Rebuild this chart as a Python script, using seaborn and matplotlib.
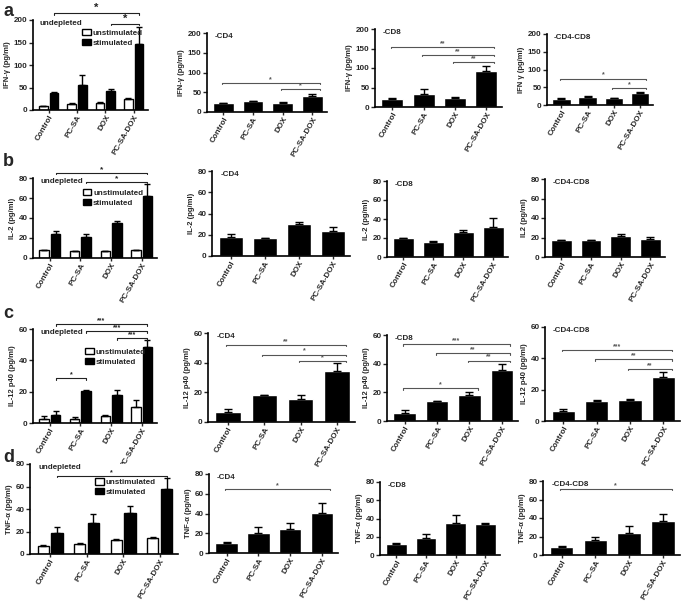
import numpy as np
import pandas as pd
import matplotlib
matplotlib.use("Agg")
import matplotlib.pyplot as plt
import seaborn as sns
from matplotlib.patches import Patch

# Groups on the x axis (same for every panel)
groups = ["Control", "PC-SA", "DOX", "PC-SA-DOX"]

# Row a: IFN-gamma
ifng_unstim = [8, 14, 16, 24]
ifng_unstim_err = [1, 2, 1, 2]
ifng_stim = [37, 56, 43, 147]
ifng_stim_err = [2, 21, 4, 37]
ifng_cd4 = [22, 27, 24, 41]
ifng_cd4_err = [1, 2, 1, 4]
ifng_cd8 = [20, 33, 24, 93]
ifng_cd8_err = [2, 13, 1, 12]
ifng_cd4cd8 = [18, 23, 19, 33]
ifng_cd4cd8_err = [1, 2, 2, 3]

# Row b: IL-2
il2_unstim = [8, 7, 7, 8]
il2_unstim_err = [0.5, 0.3, 0.3, 0.5]
il2_stim = [24.5, 21.5, 35, 62]
il2_stim_err = [3, 3, 2.5, 12]
il2_cd4 = [18, 17, 30.5, 24]
il2_cd4_err = [2.5, 0.3, 1.5, 3]
il2_cd8 = [19.5, 16, 26, 32]
il2_cd8_err = [0.5, 1, 2, 9.5]
il2_cd4cd8 = [17, 17, 21.5, 18.5]
il2_cd4cd8_err = [0.3, 0.5, 2, 2]

# Row c: IL-12 p40
il12_unstim = [2.5, 2.5, 4.5, 10.5]
il12_unstim_err = [2, 1.5, 0.7, 4.5]
il12_stim = [5, 20.5, 18, 48.5]
il12_stim_err = [2.5, 0.5, 3, 4.5]
il12_cd4 = [6.5, 18, 15.5, 34.5]
il12_cd4_err = [2.5, 0.3, 2.5, 5]
il12_cd8 = [5.5, 14, 18, 35.5]
il12_cd8_err = [2, 0.3, 2.5, 4]
il12_cd4cd8 = [6.5, 13, 13.5, 28]
il12_cd4cd8_err = [1, 0.2, 0.3, 3]

# Row d: TNF-alpha
tnf_unstim = [7, 9, 12.5, 14]
tnf_unstim_err = [1, 0.5, 1, 1.5]
tnf_stim = [19, 27.5, 36.5, 58]
tnf_stim_err = [5, 8, 6.5, 10]
tnf_cd4 = [10, 20, 24, 41]
tnf_cd4_err = [1, 6, 6, 9.5]
tnf_cd8 = [12, 18.5, 35.5, 34.5]
tnf_cd8_err = [1, 5, 8, 0.5]
tnf_cd4cd8 = [9, 16, 24, 37]
tnf_cd4cd8_err = [1, 3.5, 7.5, 7]

# Significance brackets: (from group, to group, height, stars)
sig_a1 = [(0, 3, 215, "*"), (2, 3, 191, "*")]
sig_a2 = [(0, 3, 73, "*"), (2, 3, 58, "*")]
sig_a3 = [(0, 3, 154, "**"), (1, 3, 134, "**"), (2, 3, 116, "**")]
sig_a4 = [(0, 3, 74, "*"), (2, 3, 48, "*")]
sig_b1 = [(0, 3, 85, "*"), (1, 3, 76, "*")]
sig_c1 = [(0, 3, 63, "***"), (1, 3, 58.5, "***"), (2, 3, 54, "***"), (0, 1, 28.5, "*")]
sig_c2 = [(0, 3, 52, "**"), (1, 3, 45.4, "*"), (2, 3, 41.1, "*")]
sig_c3 = [(0, 3, 53.5, "***"), (1, 3, 47.2, "**"), (2, 3, 42.1, "**"), (0, 2, 22.8, "*")]
sig_c4 = [(0, 3, 45.3, "***"), (1, 3, 39.5, "**"), (2, 3, 33.3, "**")]
sig_d1 = [(0, 3, 69.3, "*")]
sig_d2 = [(0, 3, 65, "*")]
sig_d4 = [(0, 3, 71, "*")]

sns.set_style("ticks")
plt.rcParams['font.family'] = ['Liberation Sans', 'DejaVu Sans']
plt.rcParams['font.weight'] = 'bold'
plt.rcParams['axes.labelweight'] = 'bold'

W, H = 685, 602
fig = plt.figure(figsize=(W / 100, H / 100), dpi=100)


def make_axes(left, right, top, bottom):
    # pixel box -> figure fraction
    return fig.add_axes([left / W, 1 - bottom / H, (right - left) / W, (bottom - top) / H])


def style_axes(ax, ymax, ystep, ylabel, tag):
    ax.set_xlim(-0.55, 3.5)
    ax.set_ylim(0, ymax)
    ax.set_yticks(np.arange(0, ymax + 1, ystep))
    ax.set_xlabel("")
    ax.set_ylabel(ylabel, fontsize=5.5, labelpad=2)
    ax.tick_params(axis="y", length=3, width=1, labelsize=5.8, pad=1)
    ax.tick_params(axis="x", length=2, width=1, labelsize=5.8, pad=0.5)
    for lab in ax.get_yticklabels():
        lab.set_fontweight("bold")
    ax.set_xticks(range(4))
    ax.set_xticklabels(groups, rotation=60, ha="right", rotation_mode="anchor",
                       fontweight="bold")
    sns.despine(ax=ax)
    for s in ["left", "bottom"]:
        ax.spines[s].set_linewidth(1.2)
        ax.spines[s].set_color("black")
    ax.text(0.06, 1.0, tag, transform=ax.transAxes, ha="left", va="top",
            fontsize=5.8, fontweight="bold")


def add_brackets(ax, xs_left, xs_right, sigs, ymax, color, star_size):
    d = ymax * 0.015
    for i, j, y, lab in sigs:
        x1, x2 = xs_left[i], xs_right[j]
        ax.plot([x1, x1, x2, x2], [y - d, y, y, y - d], color=color, lw=0.8, clip_on=False)
        ax.text((x1 + x2) / 2, y, lab, ha="center", va="bottom", fontsize=star_size,
                color=color, clip_on=False)


def single_panel(box, vals, errs, ymax, ystep, ylabel, tag, sigs=()):
    ax = make_axes(*box)
    df = pd.DataFrame({"group": groups, "value": vals})
    sns.barplot(data=df, x="group", y="value", color="black", saturation=1,
                width=0.7, errorbar=None, ax=ax)
    bars = ax.containers[0]
    xs = [b.get_x() + b.get_width() / 2 for b in bars]
    ax.errorbar(xs, vals, yerr=[np.zeros(len(errs)), errs], fmt="none",
                ecolor="black", elinewidth=1, capsize=3, capthick=1)
    style_axes(ax, ymax, ystep, ylabel, tag)
    add_brackets(ax, [x - 0.05 for x in xs], [x + 0.25 for x in xs], sigs, ymax, "#555555", 5)
    return ax


def grouped_panel(box, unstim, unstim_err, stim, stim_err, ymax, ystep, ylabel,
                  legend_pos, sigs=(), star_size=5):
    ax = make_axes(*box)
    df = pd.DataFrame({
        "group": groups * 2,
        "value": unstim + stim,
        "cond": ["unstimulated"] * 4 + ["stimulated"] * 4,
    })
    sns.barplot(data=df, x="group", y="value", hue="cond",
                hue_order=["unstimulated", "stimulated"],
                palette={"unstimulated": "white", "stimulated": "black"},
                saturation=1, edgecolor="black", linewidth=1, width=0.75, gap=0.18,
                errorbar=None, legend=False, ax=ax)
    for cont, vals, errs in zip(ax.containers, [unstim, stim], [unstim_err, stim_err]):
        xs = [b.get_x() + b.get_width() / 2 for b in cont]
        ax.errorbar(xs, vals, yerr=[np.zeros(len(errs)), errs], fmt="none",
                    ecolor="black", elinewidth=1, capsize=2.5, capthick=1)
    stim_xs = [b.get_x() + b.get_width() / 2 for b in ax.containers[1]]
    style_axes(ax, ymax, ystep, ylabel, "undepleted")
    handles = [Patch(facecolor="white", edgecolor="black", label="unstimulated"),
               Patch(facecolor="black", edgecolor="black", label="stimulated")]
    leg = ax.legend(handles=handles, loc="upper left", bbox_to_anchor=legend_pos,
                    frameon=False, fontsize=5.8, handlelength=1.1, handleheight=0.8,
                    handletextpad=0.2, labelspacing=0.25, borderpad=0, borderaxespad=0)
    for t in leg.get_texts():
        t.set_fontweight("bold")
    add_brackets(ax, stim_xs, stim_xs, sigs, ymax, "#222222", star_size)
    return ax


# Row a
grouped_panel((33, 148, 20, 110), ifng_unstim, ifng_unstim_err, ifng_stim, ifng_stim_err,
              200, 50, "IFN-γ (pg/ml)", (0.43, 0.90), sig_a1, star_size=8)
single_panel((207, 327, 33, 112), ifng_cd4, ifng_cd4_err, 200, 50, "IFN-γ (pg/ml)", "-CD4", sig_a2)
single_panel((375, 502, 29, 107), ifng_cd8, ifng_cd8_err, 200, 50, "IFN-γ (pg/ml)", "-CD8", sig_a3)
single_panel((547, 653, 34, 105), ifng_cd4cd8, ifng_cd4cd8_err, 200, 50, "IFN γ (pg/ml)", "-CD4-CD8", sig_a4)

# Row b
grouped_panel((33, 157, 178, 258), il2_unstim, il2_unstim_err, il2_stim, il2_stim_err,
              80, 20, "IL-2 (pg/ml)", (0.40, 0.86), sig_b1, star_size=6)
single_panel((212, 350, 171, 256), il2_cd4, il2_cd4_err, 80, 20, "IL-2 (pg/ml)", "-CD4")
single_panel((387, 508, 181, 257), il2_cd8, il2_cd8_err, 80, 20, "IL-2 (pg/ml)", "-CD8")
single_panel((545, 665, 179, 257), il2_cd4cd8, il2_cd4cd8_err, 80, 20, "IL2 (pg/ml)", "-CD4-CD8")

# Row c
grouped_panel((33, 157, 329, 423), il12_unstim, il12_unstim_err, il12_stim, il12_stim_err,
              60, 20, "IL-12 p40 (pg/ml)", (0.42, 0.80), sig_c1, star_size=5)
single_panel((208, 355, 333, 422), il12_cd4, il12_cd4_err, 60, 20, "IL-12 p40 (pg/ml)", "-CD4", sig_c2)
single_panel((387, 518, 335, 421), il12_cd8, il12_cd8_err, 60, 20, "IL-12 p40 (pg/ml)", "-CD8", sig_c3)
single_panel((545, 680, 327, 421), il12_cd4cd8, il12_cd4cd8_err, 60, 20, "IL-12 p40 (pg/ml)", "-CD4-CD8", sig_c4)

# Row d
grouped_panel((30, 178, 464, 554), tnf_unstim, tnf_unstim_err, tnf_stim, tnf_stim_err,
              80, 20, "TNF-α (pg/ml)", (0.44, 0.84), sig_d1, star_size=5)
single_panel((209, 338, 474, 553), tnf_cd4, tnf_cd4_err, 80, 20, "TNF-α (pg/ml)", "-CD4", sig_d2)
single_panel((380, 500, 482, 555), tnf_cd8, tnf_cd8_err, 80, 20, "TNF-α (pg/ml)", "-CD8")
single_panel((543, 680, 481, 555), tnf_cd4cd8, tnf_cd4cd8_err, 80, 20, "TNF-α (pg/ml)", "-CD4-CD8", sig_d4)

# Panel letters
for letter, ypix in [("a", 12), ("b", 162), ("c", 313), ("d", 458)]:
    fig.text(3 / W, 1 - ypix / H, letter, fontsize=13, fontweight="bold", ha="left", va="center")

plt.savefig("out.png", dpi=100)
plt.close()
